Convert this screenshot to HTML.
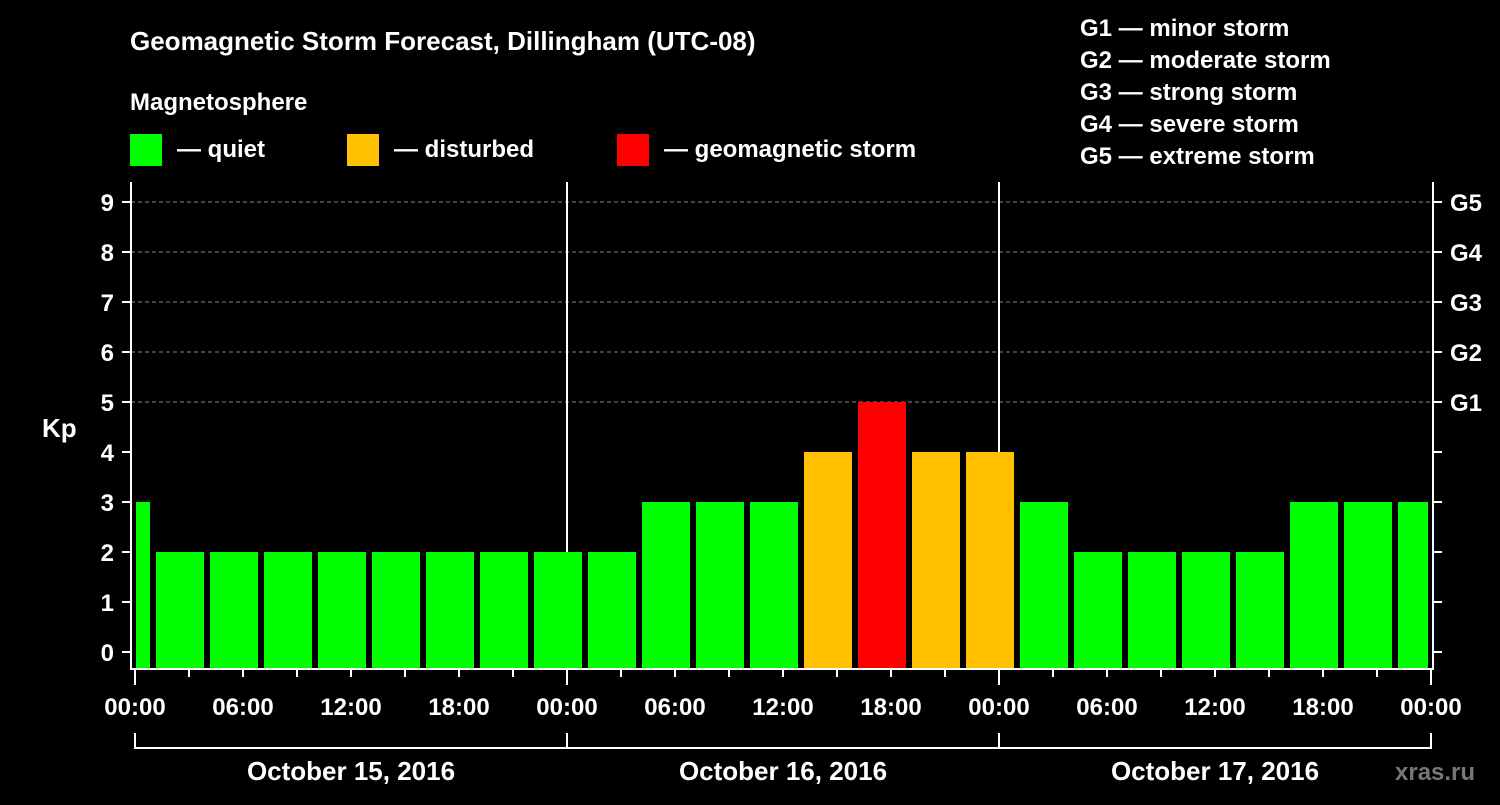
<!DOCTYPE html>
<html><head><meta charset="utf-8"><style>
body{margin:0;background:#000;}
svg text{font-family:"Liberation Sans",sans-serif;font-weight:bold;fill:#fff;}
</style></head><body>
<svg id="chart" width="1500" height="800" viewBox="0 0 1500 800" xmlns="http://www.w3.org/2000/svg">
<rect width="1500" height="800" fill="#000"/>
<text x="130" y="50" font-size="26">Geomagnetic Storm Forecast, Dillingham (UTC-08)</text>
<text x="130" y="110" font-size="24">Magnetosphere</text>
<g><rect x="130" y="134" width="32" height="32" fill="#00ff00"/><text x="177" y="157" font-size="24">— quiet</text></g>
<g><rect x="347" y="134" width="32" height="32" fill="#ffc000"/><text x="394" y="157" font-size="24">— disturbed</text></g>
<g><rect x="617" y="134" width="32" height="32" fill="#ff0000"/><text x="664" y="157" font-size="24">— geomagnetic storm</text></g>
<g font-size="24">
<text x="1080" y="36">G1 — minor storm</text>
<text x="1080" y="68">G2 — moderate storm</text>
<text x="1080" y="100">G3 — strong storm</text>
<text x="1080" y="132">G4 — severe storm</text>
<text x="1080" y="164">G5 — extreme storm</text>
</g>
<text x="42" y="437" font-size="26">Kp</text>
<g id="grid"></g><g id="bars"></g><g id="axes"></g>
<text x="1395" y="780" font-size="24" fill="#777" style="fill:#777">xras.ru</text>
</svg>
<script>
const kpValues=[3,2,2,2,2,2,2,2,2,2,3,3,3,4,5,4,4,3,2,2,2,2,3,3,3];
const yTicks=[0,1,2,3,4,5,6,7,8,9];
const gLabels=["G1","G2","G3","G4","G5"];
const xTickLabels=["00:00","06:00","12:00","18:00","00:00","06:00","12:00","18:00","00:00","06:00","12:00","18:00","00:00"];
const dayLabels=["October 15, 2016","October 16, 2016","October 17, 2016"];
const NS="http://www.w3.org/2000/svg";
const x0=135,pxPerHour=18,plotL=131,plotR=1433,plotTop=182,plotBot=669;
const xH=h=>x0+h*pxPerHour;
const y=v=>652-v*50;
function mk(tag,attrs,parent,txt){const e=document.createElementNS(NS,tag);for(const k in attrs)e.setAttribute(k,attrs[k]);if(txt!==undefined)e.textContent=txt;parent.appendChild(e);return e;}
const grid=document.getElementById('grid'),bars=document.getElementById('bars'),axes=document.getElementById('axes');
const color=v=>v>=5?"#ff0000":v>=4?"#ffc000":"#00ff00";
kpValues.forEach((v,i)=>{
 let a=xH(-2+3*i)+3,b=xH(1+3*i)-3;a=Math.max(a,plotL+5);b=Math.min(b,plotR-5);
 const r=mk('rect',{x:a,y:y(v),width:b-a,height:plotBot-y(v),fill:color(v)},bars);
 
 
});
gLabels.forEach((g,i)=>{
 const v=5+i;
 const l=mk('line',{x1:plotL,x2:plotR,y1:y(v),y2:y(v),stroke:"#888","stroke-width":1,"stroke-dasharray":"4,3"},grid);
 
 
 const t=mk('text',{x:1450,y:y(v)+9,"font-size":24},axes,g);
 
 
});
[1,2].forEach(d=>{const l=mk('line',{x1:xH(24*d),x2:xH(24*d),y1:plotTop,y2:plotBot,stroke:"#fff","stroke-width":2},grid);
 
 });
mk('line',{x1:plotL,x2:plotL,y1:plotTop,y2:plotBot+1,stroke:"#fff","stroke-width":2},axes);
mk('line',{x1:plotR,x2:plotR,y1:plotTop,y2:plotBot+1,stroke:"#fff","stroke-width":2},axes);
mk('line',{x1:plotL,x2:plotR+1,y1:plotBot,y2:plotBot,stroke:"#fff","stroke-width":2},axes);
yTicks.forEach(v=>{
 mk('line',{x1:122,x2:plotL,y1:y(v),y2:y(v),stroke:"#fff","stroke-width":2},axes);
 mk('line',{x1:plotR,x2:plotR+9,y1:y(v),y2:y(v),stroke:"#fff","stroke-width":2},axes);
 const t=mk('text',{x:114,y:y(v)+9,"font-size":24,"text-anchor":"end"},axes,String(v));
 
 
});
for(let h=0;h<=72;h+=3){const major=h%24===0;
 mk('line',{x1:xH(h),x2:xH(h),y1:plotBot,y2:plotBot+(major?16:8),stroke:"#fff","stroke-width":2},axes);}
xTickLabels.forEach((s,i)=>{const t=mk('text',{x:xH(6*i),y:715,"font-size":24,"text-anchor":"middle"},axes,s);
 
 });
mk('line',{x1:xH(0),x2:xH(72),y1:748,y2:748,stroke:"#fff","stroke-width":2},axes);
for(let d=0;d<=3;d++)mk('line',{x1:xH(24*d),x2:xH(24*d),y1:733,y2:749,stroke:"#fff","stroke-width":2},axes);
dayLabels.forEach((s,i)=>{const t=mk('text',{x:xH(24*i+12),y:780,"font-size":26,"text-anchor":"middle"},axes,s);
 
 });
</script>
</body></html>
